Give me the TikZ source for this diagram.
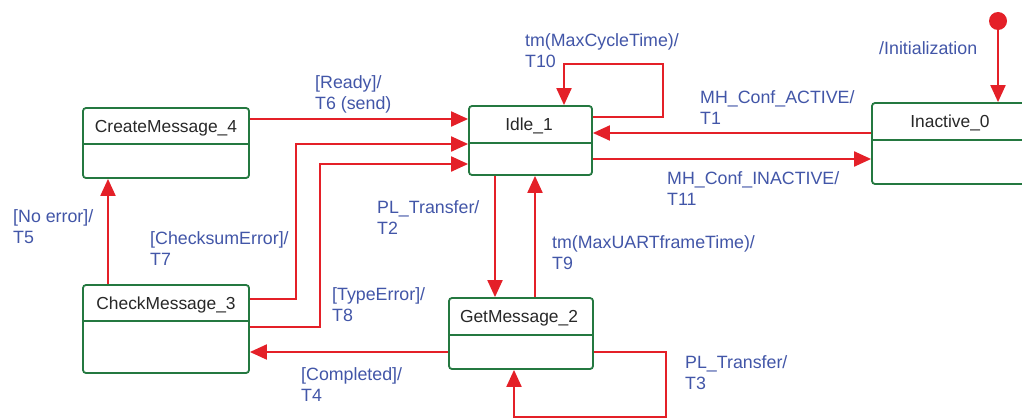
\documentclass[tikz,border=0pt]{standalone}
\usepackage{fontspec}
\setmainfont{Liberation Sans}
\usetikzlibrary{arrows.meta}
\definecolor{tred}{RGB}{228,32,40}
\definecolor{tblue}{RGB}{66,86,168}
\definecolor{sgreen}{RGB}{36,120,64}
\definecolor{stext}{RGB}{40,40,40}
\begin{document}
\begin{tikzpicture}[x=1pt,y=-1pt,
  statebox/.style={draw=sgreen, line width=1.8pt, rounded corners=3pt, inner sep=0pt},
  divider/.style={draw=sgreen, line width=1.8pt},
  sname/.style={anchor=base, text=stext, inner sep=0pt, font=\fontsize{17.4}{21}\selectfont},
  trans/.style={draw=tred, line width=2pt, -{Triangle[length=17pt,width=15pt]}},
  tlabel/.style={anchor=north west, text=tblue, align=left, inner sep=0pt, font=\fontsize{17.8}{21.5}\selectfont},
]
\useasboundingbox[fill=white] (0,0) rectangle (1022,420);

% states
\node[statebox, minimum width=166pt, minimum height=70pt] (c4) at (166,143) {};
\node[statebox, minimum width=123pt, minimum height=69pt] (i1) at (530.5,140.5) {};
\node[statebox, minimum width=156pt, minimum height=81pt] (i0) at (950,143.5) {};
\node[statebox, minimum width=166pt, minimum height=88pt] (c3) at (166,329) {};
\node[statebox, minimum width=144pt, minimum height=71pt] (g2) at (521,333.5) {};

\draw[divider] (c4.west |- 0,144) -- (c4.east |- 0,144);
\draw[divider] (i1.west |- 0,143) -- (i1.east |- 0,143);
\draw[divider] (i0.west |- 0,140) -- (i0.east |- 0,140);
\draw[divider] (c3.west |- 0,321) -- (c3.east |- 0,321);
\draw[divider] (g2.west |- 0,335) -- (g2.east |- 0,335);

\node[sname] (c4t) at (166,132) {CreateMessage\_4};
\node[sname] (i1t) at (529,130) {Idle\_1};
\node[sname] (i0t) at (950,127) {Inactive\_0};
\node[sname] (c3t) at (166,309) {CheckMessage\_3};
\node[sname] (g2t) at (519,322.5) {GetMessage\_2};

% initial
\node[circle, fill=tred, minimum size=18pt, inner sep=0pt] (init) at (998,21) {};
\draw[trans] (init) -- (init |- i0.north);

% transitions
\draw[trans] (c4.east |- 0,119) -- (i1.west |- 0,119);
\draw[trans] (c3.east |- 0,299) -- (296,299) -- (296,144) -- (i1.west |- 0,144);
\draw[trans] (c3.east |- 0,327) -- (320,327) -- (320,164) -- (i1.west |- 0,164);
\draw[trans] (i1.east |- 0,117) -- (663,117) -- (663,64) -- (564,64) -- (i1.north -| 564,0);
\draw[trans] (i0.west |- 0,133) -- (i1.east |- 0,133);
\draw[trans] (i1.east |- 0,159) -- (i0.west |- 0,159);
\draw[trans] (i1.south -| 495,0) -- (g2.north -| 495,0);
\draw[trans] (g2.north -| 535,0) -- (i1.south -| 535,0);
\draw[trans] (g2.west |- 0,352) -- (c3.east |- 0,352);
\draw[trans] (g2.east |- 0,352) -- (666,352) -- (666,417) -- (514,417) -- (g2.south -| 514,0);
\draw[trans] (c3.north -| 108,0) -- (c4.south -| 108,0);

% labels
\node[tlabel] (l6) at (315,75) {[Ready]/\\T6 (send)};
\node[tlabel] (l10) at (525,33) {tm(MaxCycleTime)/\\T10};
\node[tlabel] (l1) at (700,90) {MH\_Conf\_ACTIVE/\\T1};
\node[tlabel] (l11) at (667,171) {MH\_Conf\_INACTIVE/\\T11};
\node[tlabel] (lin) at (879,41) {/Initialization};
\node[tlabel] (l5) at (13,209) {[No error]/\\T5};
\node[tlabel] (l7) at (150,231) {[ChecksumError]/\\T7};
\node[tlabel] (l2) at (377,200) {PL\_Transfer/\\T2};
\node[tlabel] (l9) at (552,235) {tm(MaxUARTframeTime)/\\T9};
\node[tlabel] (l8) at (332,287) {[TypeError]/\\T8};
\node[tlabel] (l4) at (301,367) {[Completed]/\\T4};
\node[tlabel] (l3) at (685,355) {PL\_Transfer/\\T3};
\end{tikzpicture}
\end{document}
